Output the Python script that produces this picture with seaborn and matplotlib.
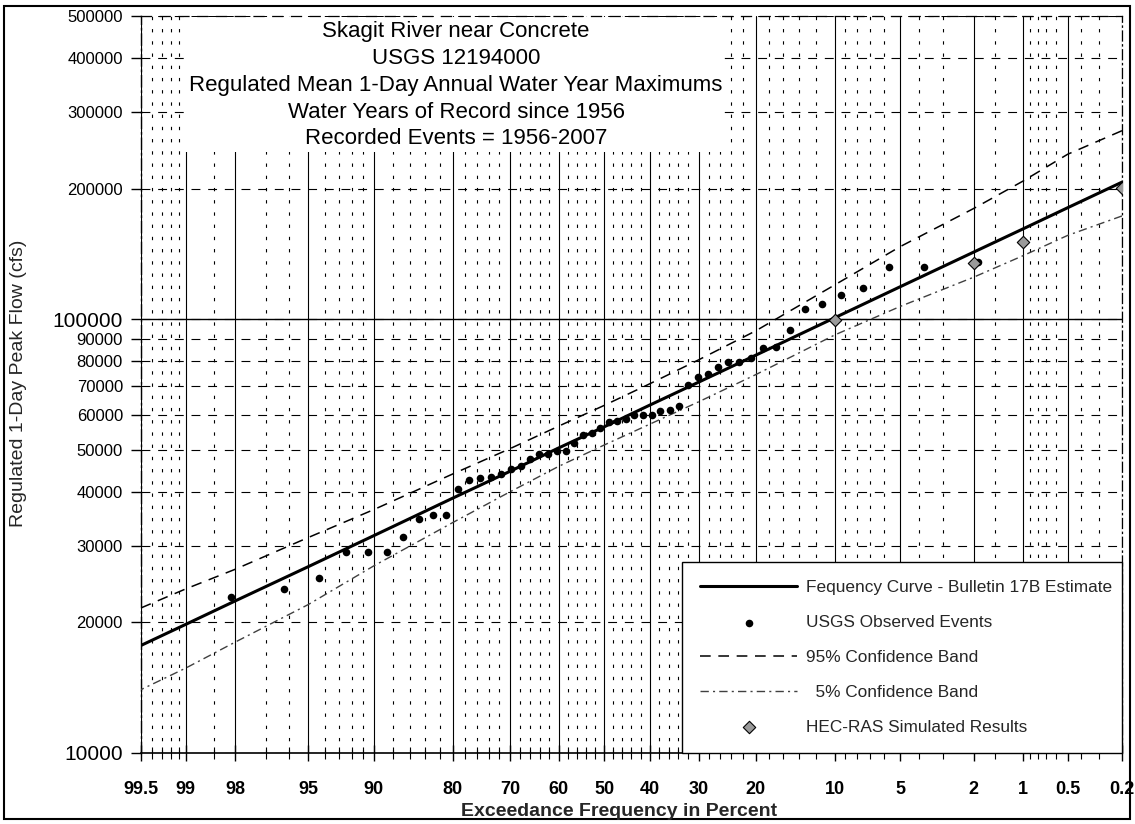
import math
from statistics import NormalDist
import numpy as np
import pandas as pd
import matplotlib
matplotlib.use("Agg")
import matplotlib.pyplot as plt
import seaborn as sns
from matplotlib import font_manager
from matplotlib.ticker import FixedLocator, NullLocator
from matplotlib.patches import Rectangle

# ---------------- data ----------------
curve_pct = [99.5, 99, 98, 95, 90, 80, 70, 60, 50, 40, 30, 20, 10, 5, 2, 1, 0.5, 0.2]
curve_flow = [17700, 19800, 22400, 26900, 31700, 38700, 44600, 50500, 56500, 63400,
              71600, 82600, 100800, 118800, 142800, 161400, 180700, 207000]
upper_flow = [21600, 23900, 26500, 31400, 36400, 44000, 50300, 56700, 63300, 71000,
              80600, 94000, 120000, 147000, 180000, 208000, 240000, 272000]
lower_flow = [14000, 15700, 18000, 22000, 27000, 34000, 40000, 45800, 51300, 57300,
              64500, 74500, 92000, 107000, 125000, 140000, 156000, 173000]

obs_pct = [1.89, 3.77, 5.66, 7.55, 9.43, 11.32, 13.21, 15.09, 16.98, 18.87,
           20.75, 22.64, 24.53, 26.42, 28.30, 30.19, 32.08, 33.96, 35.85, 37.74,
           39.62, 41.51, 43.40, 45.28, 47.17, 49.06, 50.94, 52.83, 54.72, 56.60,
           58.49, 60.38, 62.26, 64.15, 66.04, 67.92, 69.81, 71.70, 73.58, 75.47,
           77.36, 79.25, 81.13, 83.02, 84.91, 86.79, 88.68, 90.57, 92.45, 94.34,
           96.23, 98.11]
obs_flow = [135400, 132000, 132000, 118000, 113500, 108500, 105500, 94500, 86200, 85800,
            81400, 79600, 79600, 77600, 74800, 73600, 70500, 63100, 61800, 61400,
            60200, 60200, 60200, 58900, 58300, 58000, 56200, 54700, 54100, 51900,
            49700, 49700, 49000, 49000, 47700, 45900, 45200, 44000, 43300, 43100,
            42700, 40500, 35400, 35300, 34700, 31500, 29000, 29000, 29000, 25300,
            23900, 22900]

hec_pct = [10, 2, 1, 0.2]
hec_flow = [99500, 135000, 151000, 201000]

xtick_pct = [99.5, 99, 98, 95, 90, 80, 70, 60, 50, 40, 30, 20, 10, 5, 2, 1, 0.5, 0.2]
xtick_labels = ["99.5", "99", "98", "95", "90", "80", "70", "60", "50", "40", "30",
                "20", "10", "5", "2", "1", "0.5", "0.2"]
xminor_pct = [99.4, 99.3, 99.2, 99.1, 98.5, 97, 96, 94, 93, 92, 91, 88, 86, 84, 82,
              78, 76, 74, 72, 68, 66, 64, 62, 58, 56, 54, 52, 48, 46, 44, 42, 38, 36,
              34, 32, 28, 26, 24, 22, 18, 16, 14, 12, 9, 8, 7, 6, 4, 3, 1.5, 0.9, 0.8,
              0.7, 0.6, 0.4, 0.3]
ytick_vals = [10000, 20000, 30000, 40000, 50000, 60000, 70000, 80000, 90000,
              100000, 200000, 300000, 400000, 500000]

title_lines = ["Skagit River near Concrete", "USGS 12194000",
               "Regulated Mean 1-Day Annual Water Year Maximums",
               "Water Years of Record since 1956", "Recorded Events = 1956-2007"]
legend_labels = ["Fequency Curve - Bulletin 17B Estimate", "USGS Observed Events",
                 "95% Confidence Band", "  5% Confidence Band",
                 "HEC-RAS Simulated Results"]

# ---------------- style ----------------
sns.set_style("white")
plt.rcParams["font.family"] = ["Liberation Sans", "DejaVu Sans"]

_installed = {f.name for f in font_manager.fontManager.ttflist}
if "Liberation Sans Narrow" in _installed:
    legend_family, legend_size = "Liberation Sans Narrow", 15.0
elif "DejaVu Sans Condensed" in _installed:
    legend_family, legend_size = "DejaVu Sans Condensed", 12.6
else:
    legend_family, legend_size = "Liberation Sans", 12.4

_nd = NormalDist()
_ppf = np.vectorize(lambda q: _nd.inv_cdf(min(max(q, 1e-12), 1 - 1e-12)) if q == q else np.nan,
                    otypes=[float])
_cdf = np.vectorize(lambda z: _nd.cdf(z) if z == z else np.nan, otypes=[float])


def prob_forward(p):
    return _ppf(np.asarray(p, dtype=float) / 100.0)


def prob_inverse(z):
    return 100.0 * _cdf(np.asarray(z, dtype=float))


W, H = 1135, 824
L, R, T, B = 141, 1122, 16, 753
fig = plt.figure(figsize=(W / 100, H / 100), dpi=100)
fig.patch.set_facecolor("white")
ax = fig.add_axes([L / W, 1 - B / H, (R - L) / W, (B - T) / H])

curve_df = pd.DataFrame({"pct": curve_pct, "flow": curve_flow,
                         "upper": upper_flow, "lower": lower_flow})
obs_df = pd.DataFrame({"pct": obs_pct, "flow": obs_flow})
hec_df = pd.DataFrame({"pct": hec_pct, "flow": hec_flow})

sns.lineplot(data=curve_df, x="pct", y="flow", color="black", lw=2.2, estimator=None,
             label=legend_labels[0], ax=ax, zorder=3)
sns.scatterplot(data=obs_df, x="pct", y="flow", color="black", s=30, marker="o",
                linewidth=0, label=legend_labels[1], ax=ax, zorder=4)
sns.lineplot(data=curve_df, x="pct", y="upper", color="black", lw=1.1,
             linestyle=(0, (7, 5)), estimator=None, label=legend_labels[2], ax=ax, zorder=3)
sns.lineplot(data=curve_df, x="pct", y="lower", color="#404040", lw=1.0,
             linestyle=(0, (6, 3, 1.5, 3)), estimator=None, label=legend_labels[3],
             ax=ax, zorder=3)
sns.scatterplot(data=hec_df, x="pct", y="flow", marker="D", s=40, color="#9a9a9a",
                edgecolor="black", linewidth=0.8, label=legend_labels[4], ax=ax, zorder=5)

# ---------------- scales ----------------
ax.set_yscale("log")
ax.set_xscale("function", functions=(prob_forward, prob_inverse))
ax.set_xlim(99.5, 0.2)
ax.set_ylim(10000, 500000)
ax.xaxis.set_major_locator(FixedLocator(xtick_pct))
ax.set_xticklabels(xtick_labels)
ax.xaxis.set_minor_locator(FixedLocator(xminor_pct))
ax.yaxis.set_major_locator(FixedLocator(ytick_vals))
ax.yaxis.set_minor_locator(NullLocator())
ax.set_yticklabels([str(v) for v in ytick_vals])
ax.set_xlabel("")
ax.set_ylabel("")

# ---------------- grid ----------------
ax.set_axisbelow(True)
ax.xaxis.grid(True, which="major", color="black", lw=0.8, linestyle="-")
ax.xaxis.grid(True, which="minor", color="black", lw=0.8, linestyle=(0, (3, 8)))
ax.yaxis.grid(True, which="major", color="black", lw=0.8, linestyle=(0, (8, 7)))
ax.axhline(100000, color="black", lw=1.0, zorder=0.6)

ax.tick_params(axis="y", which="major", left=True, direction="out", length=7, width=1,
               pad=6, labelsize=12, color="black", labelcolor="black")
ax.tick_params(axis="x", which="major", bottom=True, direction="inout", length=12,
               width=1, pad=14, labelsize=13, color="black", labelcolor="black")
ax.tick_params(axis="x", which="minor", bottom=True, direction="inout", length=8,
               width=0.8, color="black")
for lbl in ax.get_xticklabels():
    lbl.set_fontweight("bold")
for lbl, v in zip(ax.get_yticklabels(), ytick_vals):
    if v in (10000, 100000):
        lbl.set_fontsize(15)

for s in ax.spines.values():
    s.set_color("black")
ax.spines["bottom"].set_linewidth(1.2)
ax.spines["left"].set_linewidth(1.0)
ax.spines["left"].set_linestyle((0, (8, 3, 1, 3)))
ax.spines["top"].set_linewidth(0.9)
ax.spines["top"].set_linestyle((0, (8, 7)))
ax.spines["right"].set_linewidth(0.9)
ax.spines["right"].set_linestyle((0, (8, 3, 1, 3)))

# ---------------- title box ----------------
ax.add_patch(Rectangle(((184 - L) / (R - L), (B - 152) / (B - T)),
                       (723 - 184) / (R - L), (152 - T) / (B - T) - 0.002,
                       transform=ax.transAxes, facecolor="white", edgecolor="none",
                       zorder=1))
for line, yc in zip(title_lines, [31, 58, 85, 112, 139]):
    fig.text(456 / W, 1 - yc / H, line, ha="center", va="center", fontsize=16,
             color="black", zorder=6)

# ---------------- legend ----------------
handles, labels = ax.get_legend_handles_labels()
order = [labels.index(l) for l in legend_labels]
x0 = (682 - L) / (R - L)
leg = ax.legend([handles[i] for i in order], [labels[i] for i in order],
                loc="lower left", bbox_to_anchor=(x0, 0, 1 - x0, 0.25), mode="expand",
                borderaxespad=0, frameon=True, fancybox=False, framealpha=1,
                edgecolor="black",
                prop={"family": [legend_family, "Liberation Sans"], "size": legend_size},
                handlelength=97 / (legend_size * 100 / 72),
                handletextpad=0.5, labelspacing=1.15, borderpad=1.05)
leg.get_frame().set_linewidth(1.0)
leg.set_zorder(10)

# ---------------- axis labels & border ----------------
fig.text(619 / W, 1 - 812 / H, "Exceedance Frequency in Percent", ha="center",
         va="center", fontsize=14, fontweight="bold")
fig.text(19 / W, 1 - 383 / H, "Regulated 1-Day Peak Flow (cfs)", ha="center",
         va="center", rotation=90, fontsize=14)
fig.add_artist(Rectangle((4 / W, 1 - 819 / H), 1126 / W, 813 / H,
                         transform=fig.transFigure, fill=False, edgecolor="black", lw=1.5))

fig.savefig("out.png", dpi=100)
